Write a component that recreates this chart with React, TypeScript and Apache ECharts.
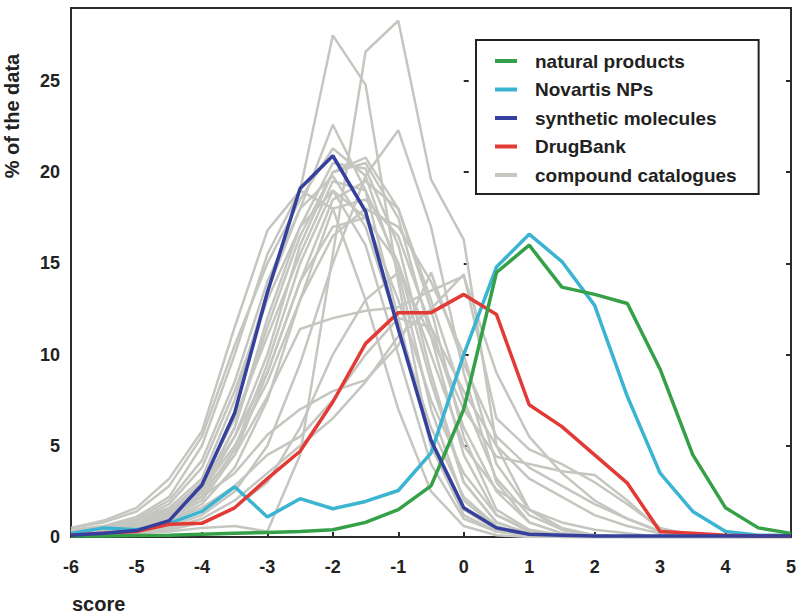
import React, { useEffect, useRef } from "react";
import * as echarts from "echarts";

const scores = [-6, -5.5, -5, -4.5, -4, -3.5, -3, -2.5, -2, -1.5, -1, -0.5, 0, 0.5, 1, 1.5, 2, 2.5, 3, 3.5, 4, 4.5, 5];
const xTicks = [-6, -5, -4, -3, -2, -1, 0, 1, 2, 3, 4, 5];
const yTicks = [0, 5, 10, 15, 20, 25];

const naturalProducts = [0.05, 0.05, 0.08, 0.1, 0.15, 0.2, 0.25, 0.3, 0.4, 0.8, 1.5, 2.8, 7.0, 14.5, 16.0, 13.7, 13.3, 12.8, 9.2, 4.5, 1.6, 0.5, 0.2];
const novartisNPs = [0.2, 0.5, 0.4, 0.75, 1.4, 2.75, 1.1, 2.1, 1.55, 1.95, 2.55, 4.6, 10.0, 14.8, 16.6, 15.1, 12.7, 7.7, 3.5, 1.4, 0.3, 0.1, 0.1];
const syntheticMolecules = [0.1, 0.2, 0.35, 0.9, 2.85, 6.8, 13.4, 19.1, 20.9, 17.85, 11.4, 5.3, 1.6, 0.5, 0.15, 0.1, 0.05, 0.05, 0.05, 0.05, 0.05, 0.05, 0.05];
const drugBank = [0.1, 0.2, 0.3, 0.7, 0.75, 1.6, 3.2, 4.7, 7.4, 10.6, 12.3, 12.3, 13.3, 12.2, 7.25, 6.05, 4.5, 2.95, 0.3, 0.2, 0.1, 0.05, 0.05];

const catalogues: number[][] = [
  [0.5, 0.9, 1.6, 3.2, 5.8, 11.5, 16.8, 19.0, 27.5, 24.8, 14.0, 5.0, 1.2, 0.3, 0.1, 0, 0, 0, 0, 0, 0, 0, 0],
  [0.1, 0.1, 0.2, 0.3, 0.5, 0.6, 0.3, 4.5, 15.5, 26.6, 28.3, 19.6, 16.3, 5.0, 1.5, 0.4, 0.1, 0, 0, 0, 0, 0, 0],
  [0.3, 0.5, 0.9, 1.6, 3.2, 7.5, 13.5, 18.0, 22.6, 19.0, 12.0, 5.0, 1.5, 0.4, 0.1, 0, 0, 0, 0, 0, 0, 0, 0],
  [0.1, 0.2, 0.3, 0.6, 1.2, 2.5, 5.0, 9.5, 15.0, 19.8, 22.3, 17.0, 9.0, 3.0, 0.8, 0.2, 0, 0, 0, 0, 0, 0, 0],
  [0.5, 0.8, 1.4, 2.8, 5.5, 10.5, 15.0, 18.5, 21.3, 19.8, 14.5, 7.0, 2.0, 0.5, 0.1, 0, 0, 0, 0, 0, 0, 0, 0],
  [0.3, 0.5, 0.9, 1.8, 3.8, 8.0, 13.0, 17.0, 20.5, 20.2, 16.0, 9.0, 3.0, 0.8, 0.2, 0, 0, 0, 0, 0, 0, 0, 0],
  [0.2, 0.3, 0.6, 1.2, 2.6, 6.0, 11.5, 16.5, 20.0, 20.5, 17.5, 11.0, 4.5, 1.2, 0.3, 0.1, 0, 0, 0, 0, 0, 0, 0],
  [0.2, 0.4, 0.7, 1.4, 3.0, 6.5, 11.0, 15.5, 19.5, 19.0, 15.0, 8.5, 3.0, 0.8, 0.2, 0, 0, 0, 0, 0, 0, 0, 0],
  [0.3, 0.5, 0.8, 1.5, 2.8, 5.5, 9.0, 14.0, 18.5, 19.5, 18.0, 12.5, 5.5, 1.5, 0.4, 0.1, 0, 0, 0, 0, 0, 0, 0],
  [0.2, 0.3, 0.5, 1.0, 2.2, 4.8, 9.5, 15.0, 19.0, 17.5, 13.0, 7.5, 3.5, 1.2, 0.4, 0.1, 0, 0, 0, 0, 0, 0, 0],
  [0.2, 0.3, 0.5, 0.9, 1.8, 3.8, 7.5, 13.0, 18.0, 18.5, 16.5, 11.5, 6.0, 2.5, 0.8, 0.2, 0, 0, 0, 0, 0, 0, 0],
  [0.3, 0.5, 0.8, 1.4, 2.5, 4.5, 7.7, 11.4, 12.0, 12.4, 12.6, 13.5, 14.3, 9.0, 5.5, 3.5, 2.0, 1.0, 0.3, 0.1, 0, 0, 0],
  [0.1, 0.2, 0.3, 0.5, 1.0, 2.0, 3.5, 5.0, 6.5, 8.5, 11.0, 12.5, 14.4, 6.5, 4.8, 4.0, 3.0, 1.8, 0.5, 0.1, 0, 0, 0],
  [0.4, 0.6, 1.1, 2.2, 5.0, 10.0, 15.5, 19.0, 18.0, 13.0, 7.0, 2.5, 0.6, 0.1, 0, 0, 0, 0, 0, 0, 0, 0, 0],
  [0.3, 0.5, 0.8, 1.3, 2.2, 3.5, 5.6, 7.0, 8.0, 8.6, 10.5, 14.5, 9.5, 5.5, 3.8, 2.8, 1.8, 1.0, 0.3, 0.1, 0, 0, 0],
  [0.2, 0.3, 0.5, 0.9, 1.6, 2.8, 4.5, 5.5, 7.5, 10.0, 12.0, 11.5, 8.0, 5.0, 3.2, 2.2, 1.2, 0.6, 0.2, 0, 0, 0, 0],
  [0.1, 0.1, 0.2, 0.4, 0.8, 1.6, 3.0, 6.0, 10.0, 13.0, 14.5, 11.0, 7.0, 4.4, 4.0, 3.6, 3.4, 2.0, 0.4, 0.1, 0, 0, 0],
  [0.2, 0.3, 0.5, 1.0, 2.0, 4.5, 9.0, 14.0, 17.0, 17.5, 15.0, 10.0, 5.0, 2.6, 1.5, 0.8, 0.4, 0.2, 0, 0, 0, 0, 0],
  [0.3, 0.4, 0.7, 1.3, 2.7, 6.0, 12.0, 17.0, 19.0, 16.0, 10.0, 4.0, 1.0, 0.3, 0.1, 0, 0, 0, 0, 0, 0, 0, 0],
  [0.2, 0.3, 0.6, 1.1, 2.4, 5.5, 10.0, 16.0, 20.0, 20.8, 18.0, 13.0, 7.5, 3.2, 1.2, 0.4, 0.1, 0, 0, 0, 0, 0, 0],
  [0.2, 0.4, 0.7, 1.3, 2.6, 5.0, 8.5, 13.0, 16.5, 18.0, 17.0, 14.0, 10.0, 4.0, 1.5, 0.5, 0.1, 0, 0, 0, 0, 0, 0],
  [0.3, 0.5, 1.0, 2.0, 4.2, 8.5, 14.0, 18.0, 19.8, 17.0, 11.5, 6.0, 2.2, 0.6, 0.1, 0, 0, 0, 0, 0, 0, 0, 0],
];

const legendNames = ["natural products", "Novartis NPs", "synthetic molecules", "DrugBank", "compound catalogues"];
const colors = {
  natural: "#34a047",
  novartis: "#3bb4d2",
  synthetic: "#353f9c",
  drugbank: "#e23a35",
  catalogue: "#c6c6c1",
};

const FONT = "Liberation Sans, Arial, sans-serif";

function pairs(values: number[]) {
  return scores.map((s, i) => [s, values[i]]);
}

export default function App() {
  const ref = useRef<HTMLDivElement>(null);
  useEffect(() => {
    if (!ref.current) return;
    const chart = echarts.init(ref.current, undefined, { renderer: "svg" });
    const tickStyle = { inside: true, length: 5, lineStyle: { color: "#2b2b2b", width: 2 } };
    const labelStyle = { fontSize: 18, fontWeight: "bold", color: "#222", fontFamily: FONT };

    const grayList = catalogues.map((c) => ({
      name: legendNames[4],
      type: "line",
      data: pairs(c),
      showSymbol: false,
      color: colors.catalogue,
      lineStyle: { color: colors.catalogue, width: 2.5 },
      z: 2,
    }));
    const main = (name: string, values: number[], color: string, z: number) => ({
      name,
      type: "line",
      data: pairs(values),
      showSymbol: false,
      color,
      lineStyle: { color, width: 3.5 },
      z,
    });

    chart.setOption({
      animation: false,
      grid: { left: 71, right: 9, top: 8, bottom: 79, show: true, borderColor: "#2b2b2b", borderWidth: 2, backgroundColor: "transparent" },
      xAxis: {
        type: "value",
        min: xTicks[0],
        max: xTicks[xTicks.length - 1],
        interval: 1,
        axisLine: { show: false },
        axisTick: tickStyle,
        splitLine: { show: false },
        axisLabel: { ...labelStyle, margin: 21 },
      },
      yAxis: [
        {
          type: "value",
          min: yTicks[0],
          max: 29,
          interval: 5,
          position: "left",
          axisLine: { show: false },
          axisTick: tickStyle,
          splitLine: { show: false },
          axisLabel: { ...labelStyle, margin: 11, showMaxLabel: false },
        },
        {
          type: "value",
          min: yTicks[0],
          max: 29,
          interval: 5,
          position: "right",
          axisLine: { show: false },
          axisTick: tickStyle,
          splitLine: { show: false },
          axisLabel: { show: false },
        },
      ],
      legend: {
        data: legendNames,
        orient: "vertical",
        left: 476,
        top: 40,
        padding: [11, 22, 9, 19],
        itemWidth: 22,
        itemHeight: 4,
        icon: "rect",
        itemGap: 8.5,
        borderColor: "#222",
        borderWidth: 2,
        backgroundColor: "#fff",
        textStyle: { fontSize: 19, fontWeight: "bold", color: "#222", fontFamily: FONT, lineHeight: 20, padding: [0, 0, 0, 13] },
      },
      graphic: [
        {
          type: "text",
          x: 12,
          y: 116,
          rotation: Math.PI / 2,
          style: { text: "% of the data", fontSize: 20, fontWeight: "bold", fill: "#222", fontFamily: FONT, align: "center", verticalAlign: "middle" },
        },
        {
          type: "text",
          x: 72,
          y: 604,
          style: { text: "score", fontSize: 20, fontWeight: "bold", fill: "#222", fontFamily: FONT, align: "left", verticalAlign: "middle" },
        },
      ],
      series: [
        ...grayList,
        main(legendNames[1], novartisNPs, colors.novartis, 3),
        main(legendNames[3], drugBank, colors.drugbank, 4),
        main(legendNames[0], naturalProducts, colors.natural, 5),
        main(legendNames[2], syntheticMolecules, colors.synthetic, 6),
      ],
    });
    return () => chart.dispose();
  }, []);
  return <div ref={ref} style={{ position: "fixed", left: 0, top: 0, width: 800, height: 616, background: "#fff" }} />;
}
